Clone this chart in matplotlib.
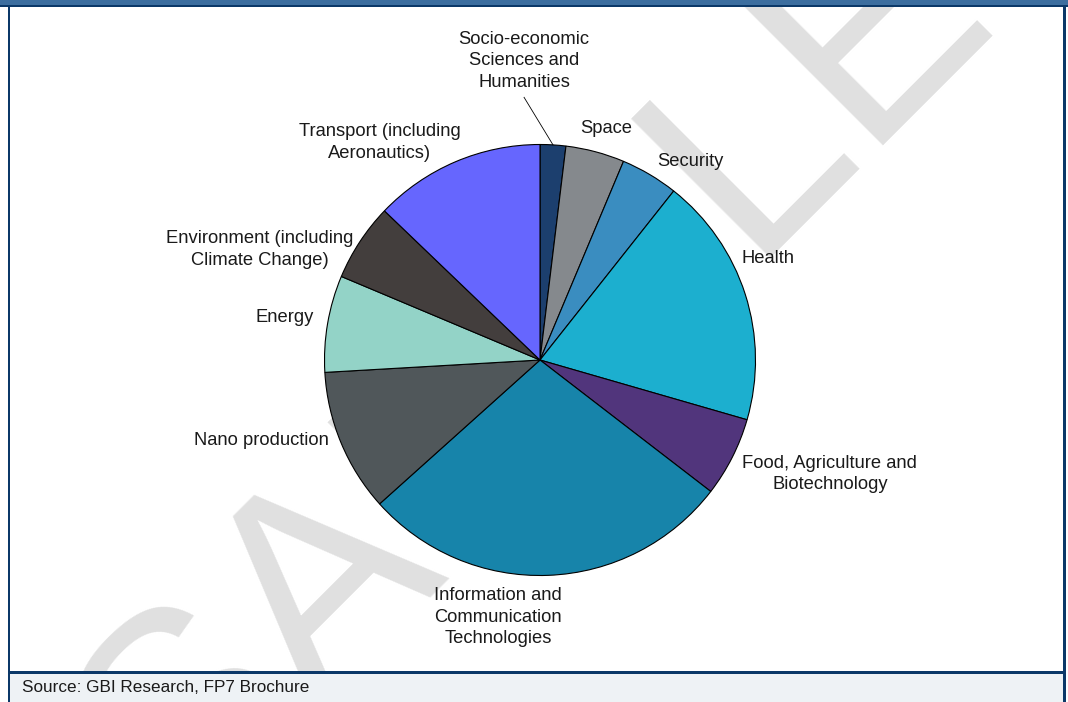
import matplotlib
matplotlib.use("Agg")
import matplotlib.pyplot as plt
import numpy as np
from matplotlib.patches import Rectangle

# FP7 budget by theme (EUR million), clockwise from 12 o'clock
themes = [
    "Socio-economic\nSciences and\nHumanities",
    "Space",
    "Security",
    "Health",
    "Food, Agriculture and\nBiotechnology",
    "Information and\nCommunication\nTechnologies",
    "Nano production",
    "Energy",
    "Environment (including\nClimate Change)",
    "Transport (including\nAeronautics)",
]
budget = [623, 1430, 1400, 6100, 1935, 9050, 3475, 2350, 1890, 4160]
colors = ["#1c3f6e", "#85898d", "#3a8dc0", "#1cafcf", "#51357c",
          "#1784aa", "#50575a", "#93d3c7", "#433e3d", "#6666fe"]
source = "Source: GBI Research, FP7 Brochure"

# label centres in units of the pie radius
label_xy = [(-0.074, 1.388), (0.307, 1.072), (0.700, 0.919), (1.060, 0.472),
            (1.345, -0.528), (-0.195, -1.193), (-1.293, -0.374),
            (-1.186, 0.198), (-1.302, 0.514), (-0.744, 1.009)]

plt.rcParams["font.family"] = ["Liberation Sans", "DejaVu Sans"]
W, H, DPI = 1068, 702, 100
fig = plt.figure(figsize=(W / DPI, H / DPI), dpi=DPI)
fig.patch.set_facecolor("white")

# watermark behind everything (baseline origin given in pixels)
fig.text(178 / W, 1 - 838 / H, "SAMPLE", fontsize=206, color="#e0e0e0",
         rotation=45, ha="left", va="baseline", rotation_mode="anchor", zorder=-5)

# pie centre and radius in pixels
cx, cy, R = 540, 360, 215.5
ax = fig.add_axes([0, 0, 1, 1])
ax.set_zorder(1)
ax.set_axis_off()
ax.patch.set_alpha(0)

wedges, _ = ax.pie(budget, colors=colors, startangle=90, counterclock=False,
                   radius=1.0, wedgeprops=dict(edgecolor="black", linewidth=0.8),
                   frame=False)

ax.set_xlim(-cx / R, (W - cx) / R)
ax.set_ylim(-(H - cy) / R, cy / R)
ax.set_aspect("auto")

for name, (lx, ly) in zip(themes, label_xy):
    ax.text(lx, ly, name, fontsize=13.2, color="#1a1a1a", ha="center",
            va="center", multialignment="center", linespacing=1.35, zorder=3)

# leader line for the thin first slice
w0 = wedges[0]
mid = np.deg2rad((w0.theta1 + w0.theta2) / 2)
ax.plot([label_xy[0][0], np.cos(mid)], [label_xy[0][1] - 0.169, np.sin(mid)],
        color="black", lw=0.6, zorder=3)

# frame: header bar, borders, source strip
navy = "#0b3868"
fig.patches.append(Rectangle((0, 1 - 5 / H), 1, 5 / H, transform=fig.transFigure,
                             facecolor="#3c6e9f", edgecolor="none", zorder=5))
fig.patches.append(Rectangle((0, 1 - 7 / H), 1, 2.2 / H, transform=fig.transFigure,
                             facecolor=navy, edgecolor="none", zorder=5))
fig.patches.append(Rectangle((9 / W, 0), (1063 - 9) / W, 29 / H, transform=fig.transFigure,
                             facecolor="#eef2f5", edgecolor="none", zorder=4))
fig.patches.append(Rectangle((8 / W, 0), 2.2 / W, 1 - 5 / H, transform=fig.transFigure,
                             facecolor=navy, edgecolor="none", zorder=5))
fig.patches.append(Rectangle((1063 / W, 0), 2.5 / W, 1 - 5 / H, transform=fig.transFigure,
                             facecolor=navy, edgecolor="none", zorder=5))
fig.patches.append(Rectangle((8 / W, 28.5 / H), (1065.5 - 8) / W, 2.2 / H,
                             transform=fig.transFigure, facecolor=navy,
                             edgecolor="none", zorder=5))

fig.text(22 / W, 15 / H, source, fontsize=12.3, color="#1a1a1a", ha="left",
         va="center", zorder=6)

fig.savefig("out.png", dpi=DPI)
